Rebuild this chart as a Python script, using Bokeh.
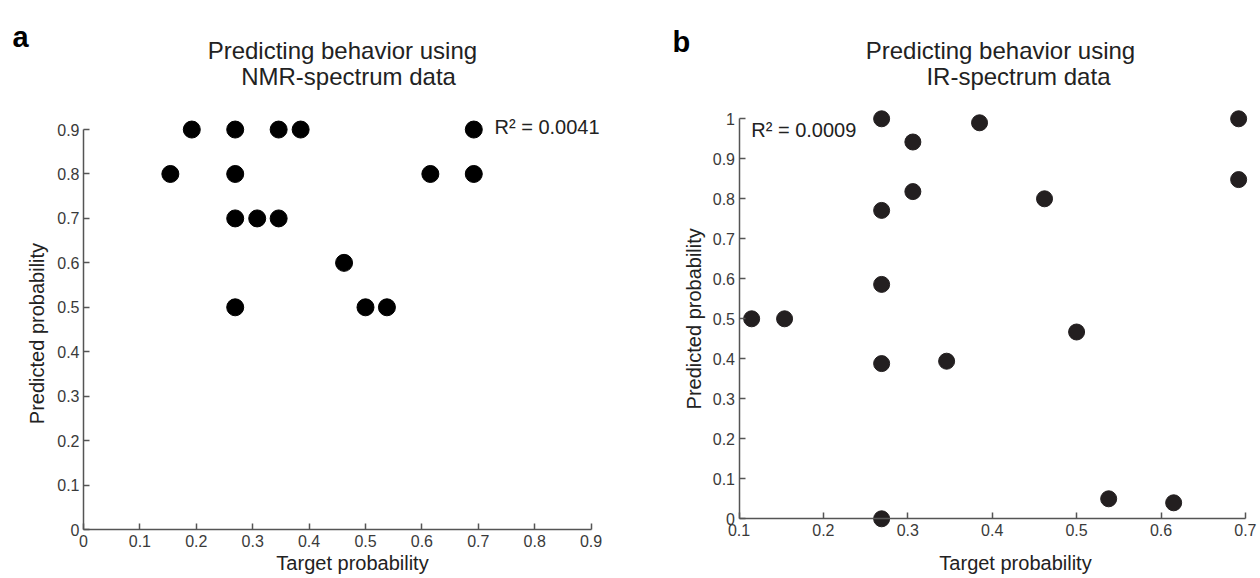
import math
from bokeh.plotting import figure
from bokeh.layouts import row
from bokeh.models import Label, FixedTicker, Range1d
from bokeh.embed import file_html
from bokeh.resources import INLINE

# ---------------- data ----------------
a_target = [0.192, 0.269, 0.346, 0.385, 0.692, 0.154, 0.269, 0.615, 0.692,
            0.269, 0.308, 0.346, 0.462, 0.269, 0.500, 0.538]
a_pred = [0.9, 0.9, 0.9, 0.9, 0.9, 0.8, 0.8, 0.8, 0.8,
          0.7, 0.7, 0.7, 0.6, 0.5, 0.5, 0.5]
a_r2 = "R² = 0.0041"
a_title = ["Predicting behavior using", "NMR-spectrum data"]
a_xticks = [0, 0.1, 0.2, 0.3, 0.4, 0.5, 0.6, 0.7, 0.8, 0.9]
a_xtick_labels = ["0", "0.1", "0.2", "0.3", "0.4", "0.5", "0.6", "0.7", "0.8", "0.9"]
a_yticks = [0, 0.1, 0.2, 0.3, 0.4, 0.5, 0.6, 0.7, 0.8, 0.9]
a_ytick_labels = ["0", "0.1", "0.2", "0.3", "0.4", "0.5", "0.6", "0.7", "0.8", "0.9"]

b_target = [0.269, 0.306, 0.306, 0.269, 0.269, 0.115, 0.154, 0.385, 0.462,
            0.500, 0.692, 0.692, 0.269, 0.346, 0.269, 0.538, 0.615]
b_pred = [1.0, 0.942, 0.818, 0.771, 0.586, 0.5, 0.5, 0.99, 0.8,
          0.467, 1.0, 0.848, 0.388, 0.394, 0.0, 0.05, 0.04]
b_r2 = "R² = 0.0009"
b_title = ["Predicting behavior using", "IR-spectrum data"]
b_xticks = [0.1, 0.2, 0.3, 0.4, 0.5, 0.6, 0.7]
b_xtick_labels = ["0.1", "0.2", "0.3", "0.4", "0.5", "0.6", "0.7"]
b_yticks = [0, 0.1, 0.2, 0.3, 0.4, 0.5, 0.6, 0.7, 0.8, 0.9, 1]
b_ytick_labels = ["0", "0.1", "0.2", "0.3", "0.4", "0.5", "0.6", "0.7", "0.8", "0.9", "1"]

x_label = "Target probability"
y_label = "Predicted probability"

FONT = "Liberation Sans"
AX = "#555555"
TXT = "#222222"
TICKTXT = "#3a3a3a"

# Frames cover each whole 630x578 figure; ranges chosen so the axes sit where the reference has them.
# panel a: x 564 px/unit with 0 at px 83 ; y 444.4 px/unit with 0 at px 529
pa = figure(width=630, height=578, output_backend="svg", toolbar_location=None,
            x_range=Range1d(-0.14716, 0.96986), y_range=Range1d(-0.11026, 1.19037),
            min_border_left=0, min_border_right=0, min_border_top=0, min_border_bottom=0)
# panel b: x 844 px/unit with 0.1 at px 108.5 ; y 400 px/unit with 0 at px 518.3
pb = figure(width=630, height=578, output_backend="svg", toolbar_location=None,
            x_range=Range1d(-0.028555, 0.717891), y_range=Range1d(-0.14925, 1.29575),
            min_border_left=0, min_border_right=0, min_border_top=0, min_border_bottom=0)

for p, xb, yb, xt, xl, yt, yl in ((pa, (0, 0.9), (0, 0.9), a_xticks, a_xtick_labels, a_yticks, a_ytick_labels),
                                  (pb, (0.1, 0.7), (0, 1), b_xticks, b_xtick_labels, b_yticks, b_ytick_labels)):
    p.grid.visible = False
    p.outline_line_color = None
    p.background_fill_color = "white"
    p.border_fill_color = "white"
    for ax, bnds, ticks, labels, loc in ((p.xaxis[0], xb, xt, xl, yb[0]),
                                         (p.yaxis[0], yb, yt, yl, xb[0])):
        ax.fixed_location = loc
        ax.bounds = bnds
        ax.ticker = FixedTicker(ticks=ticks)
        ax.major_label_overrides = {t: l for t, l in zip(ticks, labels)}
        ax.major_tick_in = 6
        ax.major_tick_out = 0
        ax.minor_tick_line_color = None
        ax.axis_line_color = AX
        ax.axis_line_width = 1.5
        ax.major_tick_line_color = AX
        ax.major_tick_line_width = 1.5
        ax.major_label_text_font = FONT
        ax.major_label_text_font_size = "16px"
        ax.major_label_text_color = TICKTXT
    p.xaxis[0].major_label_standoff = 5
    p.yaxis[0].major_label_standoff = 4


def add_label(p, x, y, text, size, angle=0.0, align="center", baseline="middle",
              bold=False, color=TXT):
    p.add_layout(Label(x=x, y=y, text=text, text_font=FONT, text_font_size=size,
                       text_align=align, text_baseline=baseline, angle=angle,
                       text_color=color, text_font_style="bold" if bold else "normal"))


pa.scatter(a_target, a_pred, size=17, color="black", line_color="black")
pb.scatter(b_target, b_pred, size=16, color="#231f20", line_color="#231f20")

# panel a texts
add_label(pa, -0.12589, 1.10936, "a", "29px", align="left", baseline="alphabetic", bold=True, color="black")
add_label(pa, 0.459, 1.0779, a_title[0], "24px")
add_label(pa, 0.470, 1.0194, a_title[1], "24px")
add_label(pa, 0.7287, 0.9046, a_r2, "20px", align="left")
add_label(pa, 0.477, -0.07426, x_label, "20px")
add_label(pa, -0.0816, 0.441, y_label, "20px", angle=math.pi / 2)

# panel b texts
add_label(pb, 0.02121, 1.19325, "b", "29px", align="left", baseline="alphabetic", bold=True, color="black")
add_label(pb, 0.4098, 1.1708, b_title[0], "24px")
add_label(pb, 0.4311, 1.1058, b_title[1], "24px")
add_label(pb, 0.1145, 0.971, b_r2, "20px", align="left")
add_label(pb, 0.4276, -0.10925, x_label, "20px")
add_label(pb, 0.0461, 0.5, y_label, "20px", angle=math.pi / 2)

layout = row(pa, pb)
open("out.html", "w").write(file_html(layout, INLINE))
